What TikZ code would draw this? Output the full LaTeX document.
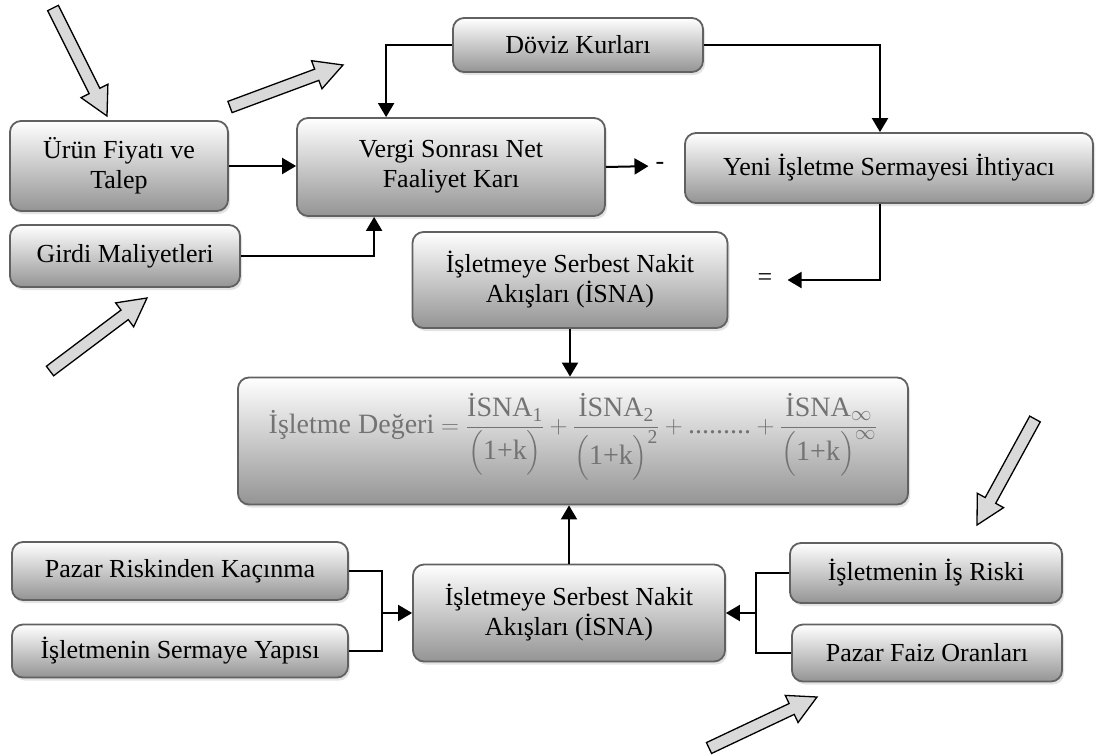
\documentclass[tikz,border=0pt]{standalone}
\usepackage{amsmath}
\usepackage{fontspec}
\setmainfont{Liberation Serif}
\usetikzlibrary{calc,positioning,shadows,arrows.meta}
\tikzset{
  kutu/.style={draw=black!62, line width=1.8pt, rounded corners=11pt,
    top color=white, bottom color=black!42,
    drop shadow={shadow xshift=2pt,shadow yshift=-3pt,fill=black!22},
    align=center, inner sep=0pt, font=\fontsize{26}{30}\selectfont},
  baglanti/.style={line width=2pt, -{Triangle[length=14pt,width=16pt]}},
  kol/.style={line width=1.4pt},
  blokok/.style={draw, line width=1.3pt, fill=black!15, line join=miter},
  isaret/.style={inner sep=1pt, font=\fontsize{26}{30}\selectfont}
}
\newcommand{\kalinok}[2]{%
  \coordinate (kb) at ($(#2)!28pt!(#1)$);
  \draw[blokok] ($(#1)!6pt!90:(#2)$) -- ($(kb)!6pt!90:(#2)$) -- ($(kb)!15pt!90:(#2)$)
    -- (#2) -- ($(kb)!15pt!-90:(#2)$) -- ($(kb)!6pt!-90:(#2)$) -- ($(#1)!6pt!-90:(#2)$) -- cycle;}
\begin{document}
\begin{tikzpicture}[x=1pt,y=-1pt]
\useasboundingbox (0,0) rectangle (1097,755);
\node[kutu, minimum width=218, minimum height=90] (urun) at (119,166) {Ürün Fiyatı ve\\Talep};
\node[kutu, minimum width=230, minimum height=62] (girdi) at (125,256) {Girdi Maliyetleri};
\node[kutu, minimum width=308, minimum height=98] (vergi) at (451,167) {Vergi Sonrası Net\\Faaliyet Karı};
\node[kutu, minimum width=250, minimum height=54] (doviz) at (578,45) {Döviz Kurları};
\node[kutu, minimum width=408, minimum height=70] (yeni) at (889,168) {Yeni İşletme Sermayesi İhtiyacı};
\node[kutu, minimum width=315, minimum height=96] (isnaust) at (570,280) {İşletmeye Serbest Nakit\\Akışları (İSNA)};
\node[kutu, minimum width=670, minimum height=127] (deger) at (573,441) {};
\node[text=black!55, font=\fontsize{28}{32}\selectfont, inner sep=0pt] (formul) at ([yshift=4pt]deger.center)
  {$\text{İşletme Değeri}=\dfrac{\text{İSNA}_{\text{1}}}{\Bigl(\text{1+k}\Bigr)}+\dfrac{\text{İSNA}_{\text{2}}}{\Bigl(\text{1+k}\Bigr)^{\text{2}}}+\text{.........}+\dfrac{\text{İSNA}_{\infty}}{\Bigl(\text{1+k}\Bigr)^{\infty}}$};
\node[kutu, minimum width=312, minimum height=97] (isnaalt) at (569,613) {İşletmeye Serbest Nakit\\Akışları (İSNA)};
\node[kutu, minimum width=336, minimum height=58] (pazar) at (180,571) {Pazar Riskinden Kaçınma};
\node[kutu, minimum width=336, minimum height=53] (sermaye) at (180,651) {İşletmenin Sermaye Yapısı};
\node[kutu, minimum width=272, minimum height=60] (isrisk) at (926,573) {İşletmenin İş Riski};
\node[kutu, minimum width=270, minimum height=57] (faiz) at (927,653) {Pazar Faiz Oranları};
\node[isaret] (eksi) at (660,166) {-};
\node[isaret] (esit) at (765,280) {=};
\coordinate (solkol) at (382,613);
\coordinate (sagkol) at (756,613);

\draw[baglanti] (urun.east) -- (vergi.west |- urun.east);
\draw[baglanti] (girdi.east) -| ([xshift=78pt]vergi.south west);
\draw[baglanti] (doviz.west) -| ([xshift=90pt]vergi.north west);
\draw[baglanti] (doviz.east) -| ([xshift=-9pt]yeni.north);
\draw[baglanti, shorten >=6pt] (vergi.east) -- (eksi.west);
\draw[baglanti, shorten >=14pt] ([xshift=-9pt]yeni.south) |- (esit.east);
\draw[baglanti] (isnaust.south) -- (isnaust.south |- deger.north);
\draw[baglanti] (isnaalt.north) -- (isnaalt.north |- deger.south);
\draw[kol] (pazar.east) -| (solkol) |- (sermaye.east);
\draw[baglanti] (solkol) -- (isnaalt.west);
\draw[kol] (isrisk.west) -| (sagkol) |- (faiz.west);
\draw[baglanti] (sagkol) -- (isnaalt.east);

\kalinok{53,8}{107,116}
\kalinok{230,107}{343,65}
\kalinok{50,371}{147,298}
\kalinok{1035,419}{977,525}
\kalinok{709,748}{817,697}
\end{tikzpicture}
\end{document}
